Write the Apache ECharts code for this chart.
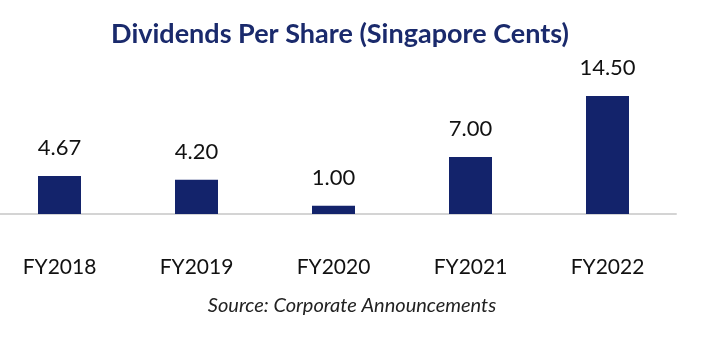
<!DOCTYPE html>
<html><head><meta charset="utf-8">
<script src="https://cdn.jsdelivr.net/npm/echarts@6/dist/echarts.min.js"></script>
<style>html,body{margin:0;padding:0;background:#fff}#c{width:705px;height:362px}</style>
</head><body><div id="c"></div>
<script>
var categories = ['FY2018', 'FY2019', 'FY2020', 'FY2021', 'FY2022'];
var dividends = [4.67, 4.20, 1.00, 7.00, 14.50];
var titleText = 'Dividends Per Share (Singapore Cents)';
var sourceText = 'Source: Corporate Announcements';

var chart = echarts.init(document.getElementById('c'));
chart.setOption({
  animation: false,
  backgroundColor: '#ffffff',
  title: [
    { text: titleText, left: 335, top: 16, textAlign: 'center',
      textStyle: { fontFamily: 'Lato', fontWeight: 'bold', fontSize: 27, color: '#1a2a6c' } },
    { text: sourceText, left: 347, top: 291, textAlign: 'center',
      textStyle: { fontFamily: 'Lato', fontStyle: 'italic', fontWeight: 'normal', fontSize: 20, color: '#222' } }
  ],
  grid: { left: -9, width: 685, top: 96, bottom: 148, containLabel: false, outerBoundsMode: 'none' },
  xAxis: {
    type: 'category', data: categories,
    axisLine: { show: true, lineStyle: { color: '#d4d4d4', width: 2 } },
    axisTick: { show: false },
    axisLabel: { margin: 43, fontFamily: 'Lato', fontSize: 21, color: '#111' }
  },
  yAxis: { type: 'value', min: 0, max: 14.5, show: false, splitLine: { show: false } },
  series: [{
    type: 'bar', data: dividends, barWidth: 43,
    itemStyle: { color: '#13236b' },
    label: { show: true, position: 'top', distance: 17, fontFamily: 'Lato', fontSize: 22, color: '#111',
      formatter: function (p) { return p.value.toFixed(2); } }
  }]
});
</script></body></html>
